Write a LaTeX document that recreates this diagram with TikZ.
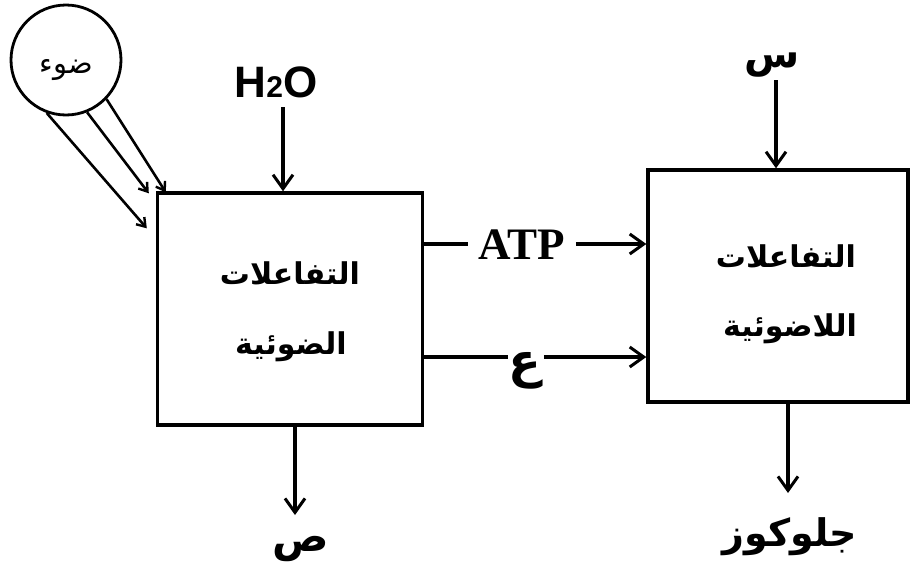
\documentclass[tikz,border=0pt]{standalone}
\usepackage{fontspec}
\usetikzlibrary{arrows.meta,calc}
\TeXXeTstate=1
\newfontfamily\arabicfont[Script=Arabic]{DejaVu Sans}
\newfontfamily\latsans{Liberation Sans}
\newfontfamily\latserif{Liberation Serif}
\begin{document}
\begin{tikzpicture}[x=1pt,y=-1pt,
  line width=3.2pt,
  arr/.style={-{Straight Barb[length=14pt,width=20pt,line width=3pt]}},
  sarr/.style={line width=2.6pt,-{Straight Barb[length=8pt,width=11pt,line width=2.4pt]}},
  boxnode/.style={draw,rectangle,inner sep=0pt,line width=3.4pt},
  lbl/.style={inner sep=1pt},
  ar/.style={font=\arabicfont\bfseries\fontsize{30}{44}\selectfont,align=center}]
\useasboundingbox (0,0) rectangle (914,565);
% light source
\node[draw,circle,minimum size=110pt,inner sep=0pt,line width=2.8pt] (sun) at (66,60) {};
\node[font=\arabicfont\fontsize{29}{34}\selectfont] (sunt) at (66,70) {\beginR ضوء\endR};
% boxes
\node[boxnode,minimum width=265pt,minimum height=232pt] (b1) at (290,309) {};
\node[boxnode,minimum width=260pt,minimum height=232pt] (b2) at (778,286) {};
\node[ar] (t1a) at (290,273) {\beginR التفاعلات\endR};
\node[ar] (t1b) at (291,347) {\beginR الضوئية\endR};
\node[ar] (t2a) at (786,256) {\beginR التفاعلات\endR};
\node[ar] (t2b) at (790,329) {\beginR اللاضوئية\endR};
% labels
\node[lbl,font=\latsans\bfseries\fontsize{44}{48}\selectfont] (h2o) at (276,82) {H\fontsize{30}{30}\selectfont 2\fontsize{44}{48}\selectfont O};
\node[lbl,font=\latserif\bfseries\fontsize{45}{48}\selectfont] (atp) at (522,245) {ATP};
\node[lbl,font=\arabicfont\bfseries\fontsize{48}{54}\selectfont] (ain) at (525,371) {\beginR ع\endR};
\node[lbl,font=\arabicfont\bfseries\fontsize{40}{46}\selectfont] (sin) at (772,65) {\beginR س\endR};
\node[lbl,font=\arabicfont\bfseries\fontsize{42}{48}\selectfont] (sad) at (301,549) {\beginR ص\endR};
\node[lbl,font=\arabicfont\bfseries\fontsize{38}{44}\selectfont] (gluc) at (790,537) {\beginR جلوكوز\endR};
% light arrows
\draw[sarr] (sun.-110) -- ($(b1.north west)+(-9,37)$);
\draw[sarr] (sun.-68) -- ($(b1.north west)+(-7,2)$);
\draw[sarr] (sun.-44) -- ($(b1.north west)+(10,1)$);
% inputs and outputs
\coordinate (h2otop) at (283,107);
\draw[arr] (h2otop) -- (b1.north -| h2otop);
\coordinate (ly1) at (0,244);
\draw (b1.east |- ly1) -- ($(atp.west |- ly1)+(-8,0)$);
\draw[arr] ($(atp.east |- ly1)+(8,0)$) -- (b2.west |- ly1);
\coordinate (ly2) at (0,357);
\draw (b1.east |- ly2) -- ($(ain.west |- ly2)+(2,0)$);
\draw[arr] ($(ain.east |- ly2)+(0,0)$) -- (b2.west |- ly2);
\coordinate (sintop) at (776,80);
\draw[arr] (sintop) -- (b2.north -| sintop);
\coordinate (glucend) at (788,493);
\draw[arr] (b2.south -| glucend) -- (glucend);
\coordinate (sadend) at (295,515);
\draw[arr] (b1.south -| sadend) -- (sadend);
\end{tikzpicture}
\end{document}
